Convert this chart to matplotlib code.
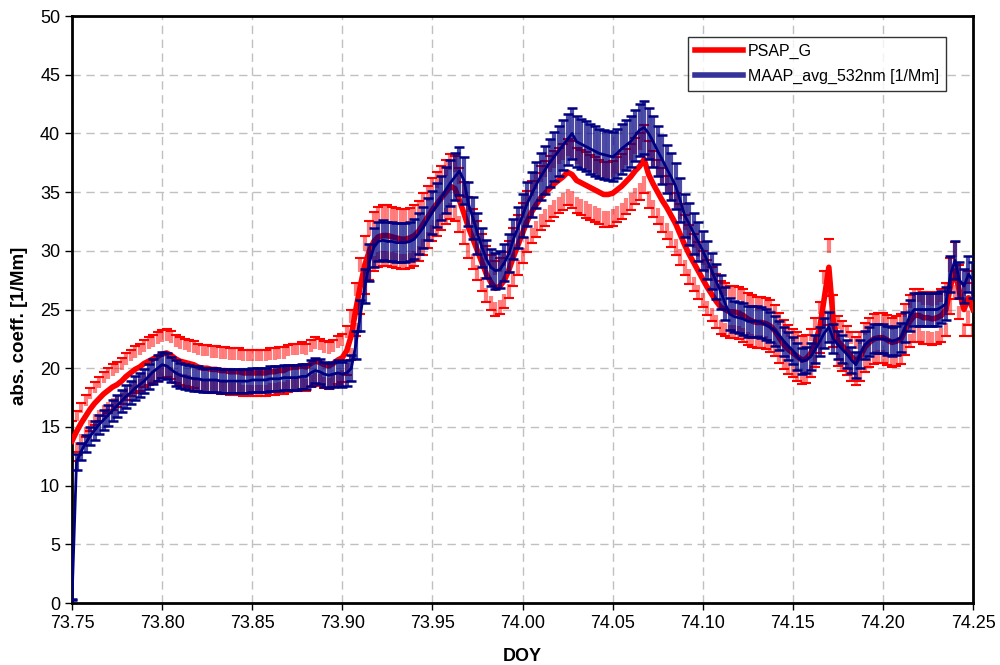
import numpy as np
import matplotlib
matplotlib.use('Agg')
import matplotlib.pyplot as plt
from matplotlib.lines import Line2D

plt.rcParams['font.family'] = ['Liberation Sans', 'DejaVu Sans']

# DOY grid, one reading every 0.0025 day
doy_start = 73.75
doy_step = 0.0025

# PSAP_G
psap_g = [
    13.8, 14.6, 15.3, 15.9, 16.5, 17.0, 17.4, 17.8, 18.1, 18.4,
    18.6, 18.9, 19.3, 19.6, 19.9, 20.1, 20.4, 20.6, 20.8, 21.0,
    21.2, 21.3, 21.1, 20.8, 20.6, 20.5, 20.4, 20.3, 20.1, 20.0,
    20.0, 19.9, 19.9, 19.8, 19.8, 19.7, 19.7, 19.7, 19.6, 19.6,
    19.6, 19.6, 19.6, 19.6, 19.7, 19.7, 19.8, 19.8, 20.0, 20.1,
    20.1, 20.2, 20.1, 20.4, 20.6, 20.5, 20.3, 20.2, 20.4, 20.7,
    20.9, 21.5, 22.8, 25.0, 27.0, 28.8, 30.0, 30.8, 31.2, 31.3,
    31.3, 31.2, 31.1, 31.0, 31.0, 31.1, 31.3, 31.7, 32.3, 32.9,
    33.5, 34.0, 34.5, 35.0, 35.5, 35.3, 34.3, 33.2, 32.0, 31.0,
    30.0, 29.0, 28.0, 27.3, 26.8, 27.0, 27.5, 28.4, 29.5, 30.5,
    31.5, 32.5, 33.3, 33.9, 34.5, 34.9, 35.3, 35.7, 36.0, 36.3,
    36.7, 36.5, 36.0, 35.8, 35.6, 35.4, 35.2, 35.0, 34.8, 34.8,
    34.9, 35.2, 35.5, 35.9, 36.3, 36.8, 37.2, 37.8, 36.5, 35.7,
    35.0, 34.3, 33.7, 33.0, 32.3, 31.4, 30.5, 29.7, 29.0, 28.3,
    27.6, 26.9, 26.3, 25.7, 25.2, 25.0, 24.8, 24.8, 24.7, 24.5,
    24.2, 24.0, 23.9, 23.9, 23.8, 23.6, 23.2, 22.6, 22.0, 21.6,
    21.3, 21.0, 20.7, 20.8, 21.3, 22.2, 23.5, 26.0, 28.6, 24.0,
    22.3, 21.9, 21.5, 21.0, 20.6, 21.0, 21.8, 22.2, 22.5, 22.6,
    22.6, 22.4, 22.2, 22.3, 22.5, 23.3, 24.0, 24.5, 24.5, 24.3,
    24.3, 24.2, 24.3, 24.5, 25.0, 27.0, 28.3, 26.5, 25.0, 26.0,
    25.0,
]

# MAAP_avg_532nm [1/Mm]
maap_532 = [
    0.3, 12.0, 12.9, 13.6, 14.2, 14.7, 15.2, 15.6, 16.0, 16.4,
    16.8, 17.2, 17.6, 17.9, 18.3, 18.6, 18.9, 19.3, 19.7, 20.0,
    20.3, 20.2, 19.9, 19.6, 19.4, 19.3, 19.2, 19.1, 19.1, 19.0,
    19.0, 19.0, 19.0, 18.9, 18.9, 18.9, 18.9, 18.9, 18.9, 18.9,
    19.0, 19.0, 19.0, 19.0, 19.1, 19.1, 19.1, 19.2, 19.2, 19.2,
    19.2, 19.3, 19.3, 19.6, 19.8, 19.7, 19.5, 19.4, 19.5, 19.6,
    19.5, 19.6, 20.0, 22.0, 24.5, 27.0, 29.0, 30.3, 30.8, 30.9,
    30.8, 30.8, 30.7, 30.7, 30.7, 30.8, 31.0, 31.5, 32.0, 32.7,
    33.3, 33.9, 34.5, 35.2, 35.8, 36.3, 36.8, 36.0, 34.0, 32.8,
    31.5, 30.3, 29.3, 28.6, 28.3, 28.4, 29.0, 29.8, 31.0, 32.0,
    33.0, 34.0, 34.8, 35.6, 36.3, 36.9, 37.5, 38.0, 38.5, 39.0,
    39.5, 40.0, 39.3, 39.1, 38.9, 38.7, 38.5, 38.3, 38.2, 38.1,
    38.0, 38.3, 38.7, 39.0, 39.3, 39.8, 40.3, 40.5, 40.0, 39.3,
    38.5, 37.8, 37.0, 36.3, 35.5, 34.3, 33.0, 32.3, 31.5, 30.8,
    30.0, 29.2, 28.3, 27.4, 26.5, 25.5, 24.6, 24.4, 24.3, 24.2,
    24.0, 24.0, 24.0, 23.9, 23.7, 23.5, 23.2, 22.8, 22.3, 21.9,
    21.5, 21.0, 20.6, 20.7, 21.0, 21.6, 22.3, 23.0, 23.5, 22.5,
    22.0, 21.6, 21.2, 20.7, 20.3, 21.2, 22.0, 22.3, 22.5, 22.5,
    22.5, 22.4, 22.3, 22.4, 22.6, 23.5, 24.5, 25.0, 25.0, 25.0,
    25.0, 25.0, 25.0, 25.2, 25.5, 28.0, 29.2, 27.5, 27.0, 28.0,
    27.5,
]

# error bar sizes
psap_err_abs = 1.0
psap_err_rel = 0.05
maap_err_rel = 0.055

x_ticks = [73.75, 73.80, 73.85, 73.90, 73.95, 74.00, 74.05, 74.10, 74.15, 74.20, 74.25]
y_ticks = [0, 5, 10, 15, 20, 25, 30, 35, 40, 45, 50]

red = '#ff0000'
navy = '#000080'

doy = doy_start + doy_step * np.arange(len(psap_g))
psap = np.array(psap_g)
maap = np.array(maap_532)
psap_err = psap_err_abs + psap_err_rel * psap
maap_err = maap_err_rel * maap

fig = plt.figure(figsize=(10, 6.65), dpi=100)
ax = fig.add_axes([0.072, 0.0932, 0.901, 0.8827])

# PSAP: error lines near the caps only, caps, then the centre line
ax.vlines(doy, psap + 0.5 * psap_err, psap + psap_err, color=red, alpha=0.5, lw=3, zorder=2)
ax.vlines(doy, psap - psap_err, psap - 0.5 * psap_err, color=red, alpha=0.5, lw=3, zorder=2)
ax.plot(doy, psap + psap_err, ls='none', marker='_', ms=7, mew=1.5, color=red, zorder=2)
ax.plot(doy, psap - psap_err, ls='none', marker='_', ms=7, mew=1.5, color=red, zorder=2)
ax.plot(doy, psap, color=red, lw=4, zorder=3)

# MAAP on top, as a dense navy band
ax.plot(doy, maap, color=navy, lw=2, zorder=4)
ax.vlines(doy, maap - maap_err, maap + maap_err, color=navy, alpha=0.7, lw=3, zorder=5)
ax.plot(doy, maap + maap_err, ls='none', marker='_', ms=7, mew=1.8, color=navy, zorder=5)
ax.plot(doy, maap - maap_err, ls='none', marker='_', ms=7, mew=1.8, color=navy, zorder=5)

ax.set_xlim(73.75, 74.25)
ax.set_ylim(0, 50)
ax.set_xticks(x_ticks)
ax.set_xticklabels([f'{t:.2f}' for t in x_ticks])
ax.set_yticks(y_ticks)
ax.tick_params(direction='out', length=5, width=1, labelsize=13, colors='black')
ax.grid(True, color='#c0c0c0', ls=(0, (6, 4)), lw=1)
ax.set_axisbelow(True)
for s in ax.spines.values():
    s.set_linewidth(2)
    s.set_color('black')

ax.set_xlabel('DOY', fontsize=13, fontweight='bold')
ax.xaxis.set_label_coords(0.4995, -0.076)
ax.set_ylabel('abs. coeff. [1/Mm]', fontsize=13.5, fontweight='bold')
ax.yaxis.set_label_coords(-0.049, 0.472)

handles = [Line2D([], [], color=red, lw=4),
           Line2D([], [], color='#333399', lw=4)]
leg = ax.legend(handles, ['PSAP_G', 'MAAP_avg_532nm [1/Mm]'],
                loc='upper left', bbox_to_anchor=(0.684, 0.965),
                fontsize=11.5, frameon=True, fancybox=False,
                handlelength=3.0, handletextpad=0.3, borderpad=0.45,
                labelspacing=0.6, borderaxespad=0)
leg.get_frame().set_edgecolor('black')
leg.get_frame().set_linewidth(1)

fig.savefig('out.png', dpi=100)
